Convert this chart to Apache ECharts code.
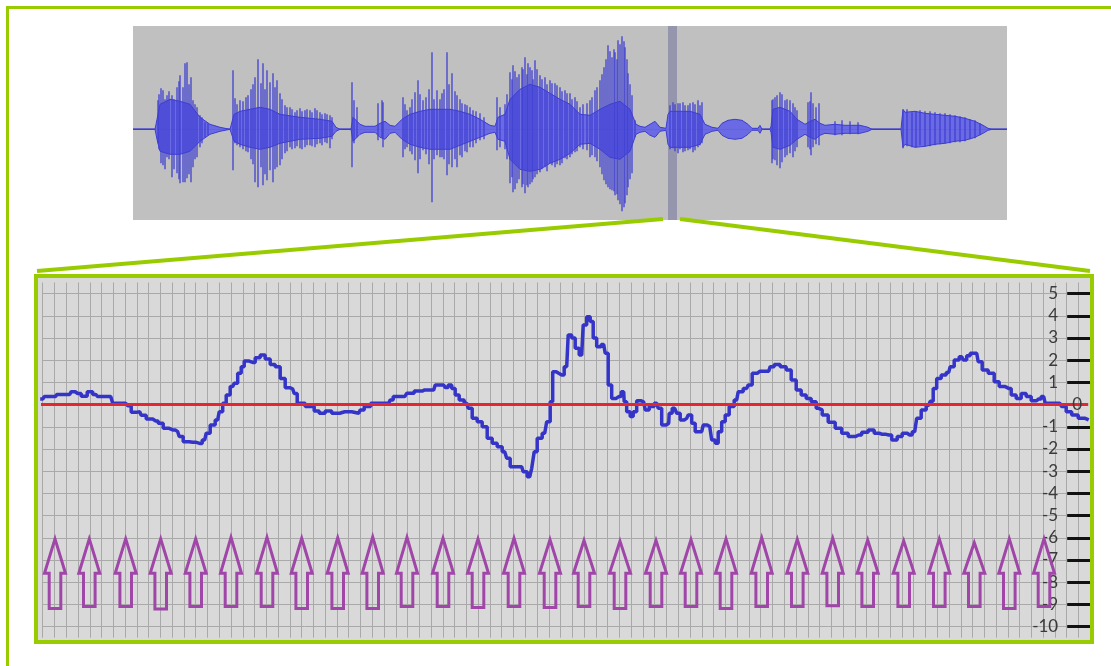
<!DOCTYPE html>
<html>
<head>
<meta charset="utf-8">
<script src="https://cdn.jsdelivr.net/npm/echarts@6/dist/echarts.min.js"></script>
<style>
html, body { margin: 0; padding: 0; background: #fff; }
#container { width: 1111px; height: 666px; }
</style>
</head>
<body>
<div id="container"></div>
<script>
// top strip: envelope of the recording (sample position, upper, lower amplitude)
var envX = [133,155,157,160,170,180,190,200,210,220,230,232,234,240,250,260,270,280,300,320,332,336,340,351,353,360,365,375,380,385,390,395,402,410,420,430,440,450,460,470,480,490,495,498,505,510,520,530,540,550,560,570,580,590,600,610,620,630,636,640,645,650,655,660,666,668,670,690,700,705,712,718,722,728,735,742,748,752,758,760,762,770,771,773,780,790,797,805,810,815,820,825,835,845,860,868,872,901,903,905,915,925,935,945,955,965,975,983,988,992,1007];
var envHi = [0,0,10,25,30,28,25,12,5,2,0,0,15,18,20,22,20,15,12,10,8,2,0,0,12,5,3,3,6,8,4,3,10,15,18,20,20,20,18,15,10,4,3,12,15,30,40,45,42,36,30,25,15,14,20,25,28,20,5,3,2,5,8,2,1,15,18,18,15,5,2,1,6,9,10,9,5,1,1,4,0,0,3,20,22,18,10,5,8,10,6,4,5,4,4,2,0,0,20,17,18,16,15,14,13,11,8,4,1,0,0];
var envLo = [0,0,-10,-22,-25,-25,-22,-12,-5,-2,0,0,-12,-15,-18,-20,-18,-14,-10,-9,-7,-2,0,0,-12,-5,-3,-3,-8,-10,-4,-3,-10,-15,-18,-20,-20,-20,-16,-12,-8,-4,-3,-10,-12,-30,-40,-42,-40,-34,-30,-24,-15,-14,-20,-28,-30,-22,-5,-3,-2,-6,-8,-2,-1,-15,-18,-18,-15,-5,-2,-1,-6,-9,-10,-9,-5,-1,-1,-4,0,0,-3,-18,-20,-16,-10,-5,-8,-10,-6,-4,-5,-4,-4,-2,0,0,-18,-15,-18,-17,-15,-14,-12,-11,-8,-4,-1,0,0];

// top strip: single peaks (position, top, bottom)
var spikes = [
    [158,29,-14],[159,35,-20],[161,41,-34],[163,39,-36],[165,30,-40],[167,34,-28],[169,38,-30],[172,34,-48],[174,30,-40],
    [177,42,-44],[179,48,-50],[180,54,-54],[183,42,-53],[185,66,-53],[187,67,-49],[189,45,-45],[191,52,-53],[193,29,-38],
    [195,25,-30],[197,22,-28],[200,14,-18],[202,12,-14],[205,7,-8],[208,6,-6],
    [233,59,-41],[235,31,-14],[237,25,-16],[240,29,-18],[243,28,-20],[246,32,-22],[248,34,-23],[251,40,-30],[253,45,-35],
    [255,52,-53],[258,70,-58],[261,46,-38],[263,66,-56],[265,40,-45],[267,59,-51],[270,47,-41],[273,56,-53],[275,42,-40],
    [277,49,-38],[280,36,-36],[282,30,-30],[285,24,-24],[287,22,-22],[290,22,-18],[292,20,-20],[295,17,-19],[297,19,-17],
    [300,21,-19],[302,18,-20],[305,19,-18],[307,20,-16],[310,19,-16],[312,17,-17],[315,21,-18],[317,19,-15],[320,17,-14],
    [322,15,-16],[325,16,-13],[327,15,-14],[330,14,-19],[332,12,-10],
    [352,47,-38],[354,29,-14],[357,22,-8],[378,26,-11],[382,29,-8],[383,27,-18],
    [403,32,-28],[405,25,-20],[407,19,-18],[410,22,-22],[412,30,-25],[415,37,-31],[418,49,-44],[420,35,-30],[423,29,-21],
    [426,32,-25],[429,40,-35],[432,77,-73],[434,30,-30],[437,39,-26],[440,30,-28],[442,36,-28],[444,40,-30],[447,77,-46],
    [449,45,-35],[452,56,-38],[455,38,-30],[457,34,-38],[460,30,-26],[462,26,-28],[465,25,-22],[467,24,-23],[470,22,-18],
    [473,19,-18],[476,18,-14],[480,16,-11],[484,12,-10],
    [497,32,-21],[500,22,-18],[505,25,-20],[507,35,-30],[510,57,-54],[512,50,-48],[513,64,-63],[515,58,-60],[517,52,-54],
    [519,55,-50],[522,62,-58],[523,60,-55],[525,72,-64],[527,55,-56],[528,66,-58],[530,62,-55],[532,59,-53],[533,50,-50],
    [535,69,-48],[537,60,-45],[540,54,-43],[542,50,-40],[545,52,-38],[547,45,-42],[550,49,-34],[552,46,-36],[555,46,-38],
    [557,44,-35],[560,42,-36],[562,38,-34],[565,39,-29],[567,36,-30],[570,36,-28],[572,30,-25],[575,32,-23],[577,28,-22],
    [580,22,-18],[583,25,-20],[587,26,-21],[590,29,-28],[592,32,-26],[595,39,-28],[597,42,-32],[600,49,-38],[602,55,-45],
    [604,62,-51],[606,70,-55],[608,84,-58],[610,78,-60],[612,72,-61],[614,80,-62],[615,77,-66],[617,70,-65],[618,89,-71],
    [620,85,-75],[622,93,-82],[624,88,-78],[625,82,-74],[627,70,-66],[628,56,-58],[630,45,-50],[632,34,-44],[635,9,-8],
    [670,24,-20],[673,27,-19],[675,25,-22],[678,26,-24],[680,26,-20],[683,27,-23],[685,24,-22],[688,24,-21],[690,26,-20],
    [693,27,-23],[695,25,-21],[698,29,-18],[700,24,-16],[702,27,-14],
    [772,29,-34],[773,30,-30],[775,32,-31],[777,34,-36],[780,37,-39],[782,35,-33],[785,29,-28],[787,30,-26],[790,29,-24],
    [793,26,-28],[795,22,-22],[797,19,-18],[808,27,-18],[810,28,-20],[811,37,-26],[813,26,-18],[816,22,-15],[819,26,-16],
    [835,8,-6],[842,9,-6],[850,8,-5],[858,7,-5],
    [903,19,-19],[907,20,-17],[912,17,-18],[916,18,-18],[920,19,-16],[925,18,-17],[930,18,-17],[935,17,-16],[940,16,-15],
    [945,16,-14],[950,15,-14],[955,14,-13],[960,13,-13],[965,12,-12],[970,10,-10],[975,9,-9],[980,6,-6]
];

// zoomed trace (sample, value)
var trace = [
    [-2.5,0.25],[0,0.25],[3,0.36],[13,0.36],[15,0.46],[27,0.46],[30,0.58],[35,0.50],[42,0.38],[47,0.58],[53,0.46],
    [57,0.36],[68,0.36],[72,0.06],[83,0.06],[87,-0.05],[90,-0.35],[97,-0.32],[100,-0.48],[107,-0.65],[113,-0.74],
    [118,-0.84],[123,-1.07],[130,-1.14],[135,-1.22],[138,-1.44],[143,-1.67],[150,-1.70],[157,-1.75],[162,-1.59],[165,-1.29],
    [170,-0.92],[175,-0.69],[178,-0.32],[182,0.06],[185,0.43],[190,0.81],[193,0.96],[197,1.41],[200,1.71],[203,1.96],
    [210,1.90],[215,2.11],[220,2.23],[225,2.05],[230,1.81],[235,1.71],[240,1.18],[245,0.76],[250,0.70],[253,0.50],
    [256,0.06],[269,-0.09],[274,-0.29],[279,-0.39],[286,-0.29],[292,-0.39],[302,-0.32],[316,-0.39],[319,-0.24],[324,-0.09],
    [332,0.06],[346,0.06],[349,0.21],[352,0.36],[362,0.36],[366,0.51],[377,0.61],[382,0.66],[391,0.66],[394,0.88],
    [401,0.88],[404,0.77],[407,0.88],[411,0.73],[414,0.43],[419,0.21],[424,0.06],[427,-0.17],[432,-0.62],[437,-0.77],
    [442,-1.0],[447,-1.52],[452,-1.74],[457,-1.9],[462,-2.12],[466,-2.42],[469,-2.8],[479,-2.8],[482,-3.02],[487,-3.25],
    [491,-2.87],[492,-2.12],[497,-1.52],[502,-1.29],[506,-0.77],[509,0.13],[511,1.48],[516,1.41],
    [519,1.33],[524,1.71],[527,3.14],[531,3.0],[534,2.54],[539,2.23],[542,3.59],[546,3.96],[549,3.74],[552,3.0],
    [556,2.61],[561,2.71],[564,2.31],[567,0.88],[571,0.28],[576,0.36],[581,0.58],[582,0.13],[586,-0.32],[589,-0.54],
    [592,-0.32],[596,0.17],[601,0.11],[604,-0.24],[609,-0.09],[614,0.06],[617,-0.17],[621,-0.92],[626,-0.84],[627,-0.39],
    [632,-0.17],[636,-0.39],[639,-0.69],[644,-0.62],[647,-0.47],[651,-0.84],[654,-1.22],[659,-1.22],[662,-0.92],[667,-0.99],
    [671,-1.59],[674,-1.74],[677,-1.22],[681,-0.77],[684,-0.47],[689,-0.09],[694,0.21],[697,0.58],[704,0.73],[707,0.88],
    [712,1.41],[717,1.5],[726,1.5],[729,1.71],[734,1.81],[741,1.71],[746,1.56],[751,1.11],[756,0.66],[761,0.43],
    [766,0.28],[771,0.13],[776,-0.17],
    [777,-0.24],[782,-0.47],[789,-0.8],[796,-1.07],[802,-1.29],[809,-1.44],[816,-1.37],[822,-1.24],[829,-1.14],[834,-1.29],
    [839,-1.33],[846,-1.37],[852,-1.59],[857,-1.44],[862,-1.29],[867,-1.37],[872,-1.22],[876,-0.62],[881,-0.24],[886,-0.03],
    [889,0.15],[892,0.73],[896,1.18],[901,1.33],[906,1.45],[909,1.71],[914,2.01],[919,2.16],[922,2.01],[926,2.2],
    [929,2.31],[934,2.31],[937,1.93],[942,1.56],[949,1.41],[954,1.03],[959,0.81],[966,0.73],[971,0.43],[976,0.28],
    [981,0.5],[986,0.36],[991,0.17],[996,0.25],[1001,0.36],[1004,0.06],[1017,0.06],[1021,-0.09],[1026,-0.32],[1032,-0.47],
    [1039,-0.62],[1046,-0.69]
];
var zeroLine = [[-2.7, 0], [1045.5, 0]];

// arrows under the trace
var arrowX = [12.3,46.6,83,118,153,188.3,224.3,259,295,330,364.3,400.3,435.3,471.3,507.3,541.3,577.3,613.3,648.3,683.3,719,754.6,790,825,861,896.6,931.6,966.6,1001.3];
var arrowTip = [-6.05,-6.05,-6.05,-6.05,-6.05,-5.98,-5.98,-6.02,-6.0,-5.96,-5.98,-6.02,-6.05,-6.02,-6.08,-6.12,-6.15,-6.12,-6.08,-6.05,-6.0,-6.07,-6.02,-6.1,-6.14,-6.05,-6.22,-6.05,-6.05];
var arrowFoot = [-9.18,-9.1,-9.1,-9.21,-9.1,-9.1,-9.1,-9.18,-9.18,-9.18,-9.1,-9.1,-9.14,-9.1,-9.14,-9.1,-9.18,-9.1,-9.1,-9.18,-9.1,-9.1,-9.06,-9.1,-9.1,-9.1,-9.1,-9.18,-9.1];
var arrowNeck = -7.6;

var tickValues = [-10,-9,-8,-7,-6,-5,-4,-3,-2,-1,1,2,3,4,5];

var GREEN = '#99cc00';
var dom = document.getElementById('container');
var myChart = echarts.init(dom);

function pairs(xs, ys) {
    var out = [];
    for (var i = 0; i < xs.length; i++) {
        out.push([xs[i], ys[i]]);
    }
    return out;
}

var arrowData = [];
for (var i = 0; i < arrowX.length; i++) {
    arrowData.push([arrowX[i], arrowTip[i], arrowFoot[i]]);
}

var option = {
    animation: false,
    graphic: [
        { type: 'rect', z: -10, silent: true, shape: { x: 38, y: 278, width: 1052, height: 362 }, style: { fill: '#d9d9d9' } },
        { type: 'polyline', z: 100, silent: true, shape: { points: [[7.5, 666], [7.5, 7.5], [1111, 7.5]] }, style: { stroke: GREEN, lineWidth: 3, fill: 'transparent' } },
        { type: 'line', z: 100, silent: true, shape: { x1: 663, y1: 219, x2: 37, y2: 271 }, style: { stroke: GREEN, lineWidth: 4 } },
        { type: 'line', z: 100, silent: true, shape: { x1: 680, y1: 219, x2: 1090, y2: 271 }, style: { stroke: GREEN, lineWidth: 4 } },
        { type: 'rect', z: 100, silent: true, shape: { x: 36, y: 276, width: 1056, height: 366 }, style: { stroke: GREEN, lineWidth: 4, fill: 'transparent' } }
    ],
    grid: [
        { left: 133, top: 26, width: 874, height: 194, show: true, backgroundColor: '#c0c0c0', borderWidth: 0 },
        { left: 42.7, top: 282.5, width: 1047.5, height: 355.2 }
    ],
    xAxis: [
        { gridIndex: 0, type: 'value', min: 133, max: 1007, show: false },
        {
            gridIndex: 1, type: 'value', min: 0, max: 1047.5, interval: 11.77,
            axisLine: { show: false, onZero: false }, axisTick: { show: false }, axisLabel: { show: false },
            splitLine: { show: true, lineStyle: { color: '#a9a9a9', width: 1 } }
        }
    ],
    yAxis: [
        { gridIndex: 0, type: 'value', min: -90.7, max: 103.3, show: false },
        {
            gridIndex: 1, type: 'value', position: 'right', min: -10.5, max: 5.5, interval: 0.5,
            axisLine: { show: false, onZero: false },
            axisTick: { show: true, inside: true, length: 23, customValues: tickValues, lineStyle: { color: '#111111', width: 3 } },
            axisLabel: { show: true, inside: true, margin: 32, customValues: tickValues, fontSize: 17, fontFamily: 'Lato', color: '#3a3a3a' },
            splitLine: { show: true, lineStyle: { color: '#a9a9a9', width: 1 } }
        }
    ],
    series: [
        {
            type: 'line', xAxisIndex: 0, yAxisIndex: 0, z: 1,
            data: [[133, 0], [1007, 0]], symbol: 'none',
            lineStyle: { color: '#4a4ad6', width: 1.5 },
            markArea: { silent: true, itemStyle: { color: '#9595ad', opacity: 1 }, data: [[{ xAxis: 668 }, { xAxis: 677 }]] }
        },
        {
            type: 'line', xAxisIndex: 0, yAxisIndex: 0, z: 3,
            data: pairs(envX, envHi), symbol: 'none',
            lineStyle: { color: '#3c3cd0', width: 1 },
            areaStyle: { color: '#6a6ae4', opacity: 1 }
        },
        {
            type: 'line', xAxisIndex: 0, yAxisIndex: 0, z: 3,
            data: pairs(envX, envLo), symbol: 'none',
            lineStyle: { color: '#3c3cd0', width: 1 },
            areaStyle: { color: '#6a6ae4', opacity: 1 }
        },
        {
            type: 'custom', xAxisIndex: 0, yAxisIndex: 0, z: 4,
            encode: { x: 0, y: [1, 2] },
            data: spikes,
            renderItem: function (params, api) {
                var x = api.value(0);
                var p1 = api.coord([x, api.value(1)]);
                var p2 = api.coord([x, api.value(2)]);
                return {
                    type: 'line',
                    shape: { x1: p1[0], y1: p1[1], x2: p2[0], y2: p2[1] },
                    style: { stroke: '#4040d2', lineWidth: 1.3 }
                };
            }
        },
        {
            type: 'custom', xAxisIndex: 1, yAxisIndex: 1, z: 3,
            encode: { x: 0, y: [1, 2] },
            data: arrowData,
            renderItem: function (params, api) {
                var x = api.value(0);
                var tip = api.coord([x, api.value(1)]);
                var neck = api.coord([x, arrowNeck]);
                var foot = api.coord([x, api.value(2)]);
                var hw = 10.5, sw = 5.8, cx = tip[0];
                return {
                    type: 'polygon',
                    shape: {
                        points: [
                            [cx, tip[1]], [cx + hw, neck[1]], [cx + sw, neck[1]], [cx + sw, foot[1]],
                            [cx - sw, foot[1]], [cx - sw, neck[1]], [cx - hw, neck[1]]
                        ]
                    },
                    style: { fill: 'transparent', stroke: '#a046a8', lineWidth: 3 }
                };
            }
        },
        {
            type: 'line', xAxisIndex: 1, yAxisIndex: 1, z: 4, clip: false,
            data: trace, symbol: 'none', step: 'middle',
            lineStyle: { color: '#3434c8', width: 3.5 }
        },
        {
            type: 'line', xAxisIndex: 1, yAxisIndex: 1, z: 5, clip: false,
            data: zeroLine, symbol: 'none',
            lineStyle: { color: '#e3262f', width: 3 },
            endLabel: { show: true, formatter: '0', distance: 0, offset: [-16, 0], fontSize: 17, fontFamily: 'Lato', color: '#3a3a3a' }
        }
    ]
};

myChart.setOption(option, true);
</script>
</body>
</html>
